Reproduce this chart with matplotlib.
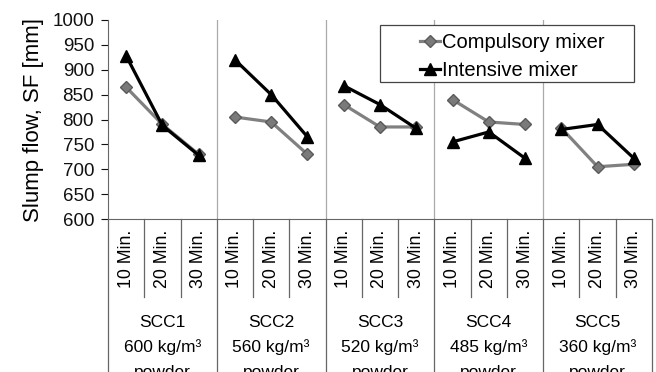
import matplotlib
matplotlib.use("Agg")
import matplotlib.pyplot as plt
from matplotlib.patches import Rectangle
import numpy as np

plt.rcParams['font.family'] = ['Liberation Sans', 'DejaVu Sans']

groups = ["SCC1", "SCC2", "SCC3", "SCC4", "SCC5"]
powder = ["600", "560", "520", "485", "360"]
times = ["10 Min.", "20 Min.", "30 Min."]

compulsory = [[865, 790, 730],
              [805, 795, 730],
              [830, 785, 785],
              [840, 795, 790],
              [783, 705, 710]]
intensive = [[928, 788, 728],
             [920, 850, 765],
             [868, 830, 782],
             [755, 775, 722],
             [780, 790, 722]]

fig = plt.figure(figsize=(6.56, 3.72), dpi=100)
ax = fig.add_axes([108/656, 1 - 219/372, 544/656, 199/372])

n = len(times)
for g in range(len(groups)):
    x = np.arange(n) + g * n
    ax.plot(x, compulsory[g], color='#808080', lw=2.3, marker='D', ms=6.5,
            mfc='#7a7a7a', mec='#5a5a5a', label='Compulsory mixer' if g == 0 else None, zorder=3)
    ax.plot(x, intensive[g], color='black', lw=2.3, marker='^', ms=8.5,
            mfc='black', mec='black', label='Intensive mixer' if g == 0 else None, zorder=4)

ax.set_xlim(-0.5, len(groups) * n - 0.5)
ax.set_ylim(600, 1000)
ax.set_yticks(np.arange(600, 1001, 50))
ax.tick_params(axis='y', labelsize=13.5, length=5, direction='out', colors='#111111', pad=5)
ax.tick_params(axis='x', bottom=False, labelbottom=False)
for s in ['top', 'right']:
    ax.spines[s].set_visible(False)
ax.spines['left'].set_color('#666666')
ax.spines['bottom'].set_color('#666666')
ax.set_ylabel("Slump flow, SF [mm]", fontsize=16, labelpad=6)

trans = ax.get_xaxis_transform()
# group separators inside plot and down to the bottom
for g in range(1, len(groups)):
    xs = g * n - 0.5
    ax.plot([xs, xs], [0, 1], color='#aaaaaa', lw=0.9, transform=trans, zorder=1)
for g in range(len(groups) + 1):
    xs = g * n - 0.5
    ax.plot([xs, xs], [0, -0.8], color='#666666', lw=0.9, transform=trans, clip_on=False)
    if g < len(groups):
        for k in range(1, n):
            xk = xs + k
            ax.plot([xk, xk], [0, -0.39], color='#666666', lw=0.9, transform=trans, clip_on=False)

for i in range(len(groups) * n):
    ax.text(i, -0.2, times[i % n], rotation=90, ha='center', va='center',
            fontsize=12.8, transform=trans)

for g in range(len(groups)):
    xc = g * n + 1
    lines = [groups[g], powder[g] + " kg/m³", "powder"]
    for j, t in enumerate(lines):
        ax.text(xc, -0.52 - j * 0.125, t, ha='center', va='center',
                fontsize=12.5, transform=trans)

# legend box is much wider than its contents in the original
ax.add_patch(Rectangle((0.5, 0.688), 0.467, 0.287, transform=ax.transAxes,
                       facecolor='white', edgecolor='#444444', lw=0.9, zorder=5))
leg = ax.legend(loc='center left', bbox_to_anchor=(0.574, 0.815), fontsize=14.5,
                frameon=False, handlelength=1.0, handletextpad=0.1,
                borderpad=0, labelspacing=0.45, borderaxespad=0)
leg.set_zorder(6)

fig.savefig("out.png", dpi=100)
